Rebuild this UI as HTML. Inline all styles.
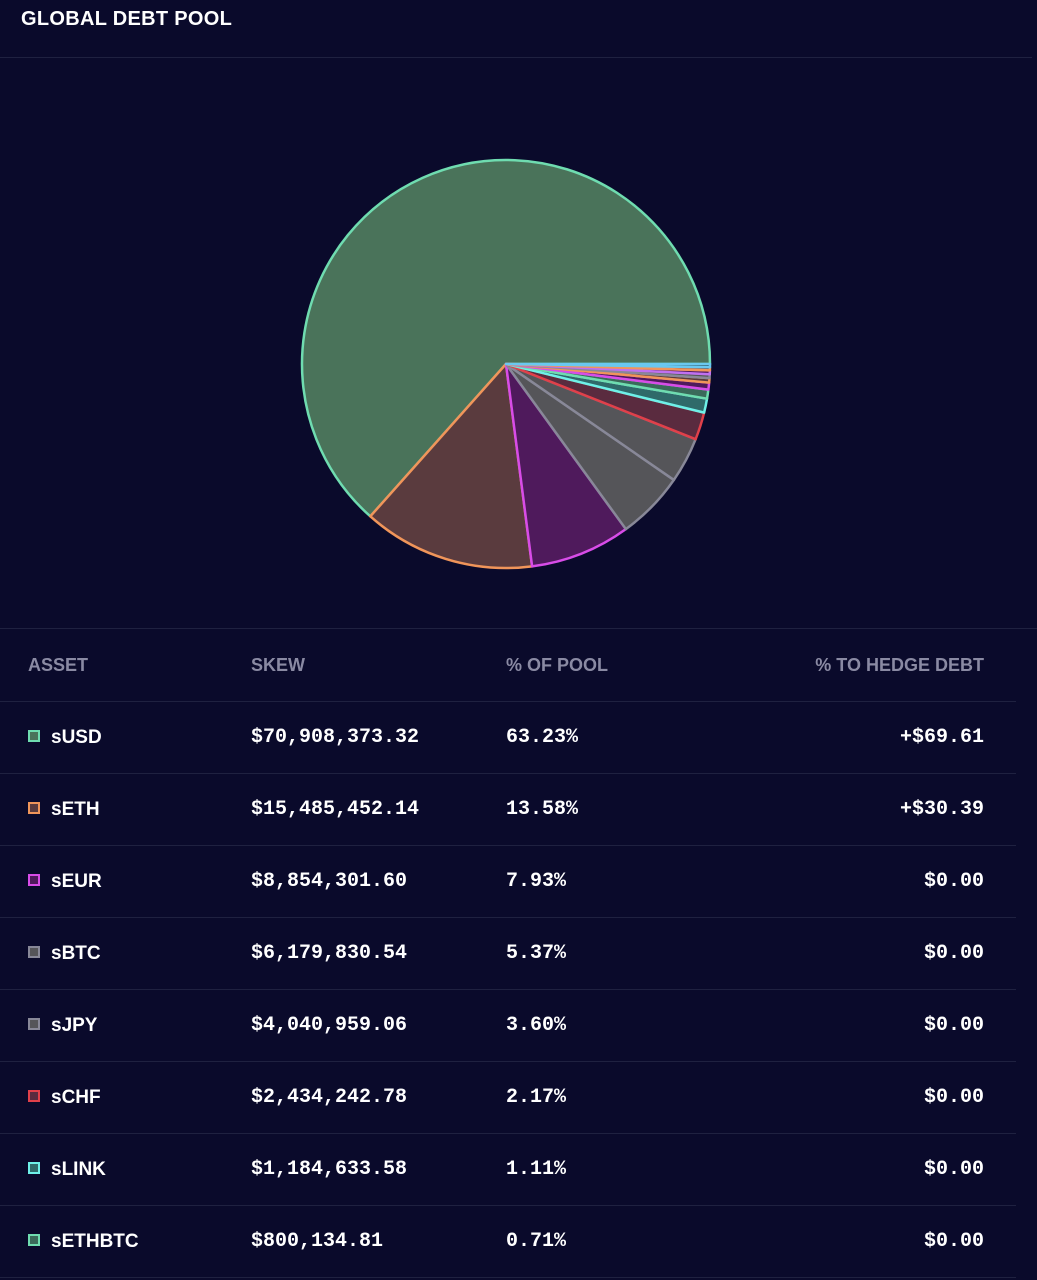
<!DOCTYPE html>
<html><head><meta charset="utf-8">
<style>
body{margin:0;width:1037px;height:1280px;background:#0a0a2b;overflow:hidden;font-family:"Liberation Sans",sans-serif;color:#fff;position:relative}
.title{position:absolute;left:21px;top:8px;font-weight:bold;font-size:20px;letter-spacing:0.3px}
.hr{position:absolute;left:0;height:1px;background:#1f2140}
table{position:absolute;left:0;top:629px;width:1016px;border-collapse:collapse}
th{height:72px;font-size:18px;color:#8a8aa3;text-align:left;font-weight:bold;border-bottom:1px solid #1f2140;padding:0}
td{height:71px;border-bottom:1px solid #1f2140;padding:0;font-size:19px;font-weight:bold}
.mono{font-family:"Liberation Mono",monospace;font-size:20px}
.c1{padding-left:28px;width:223px}.c2{width:255px}.c4{text-align:right;padding-right:32px}
.sw{display:inline-block;width:8px;height:8px;border:2px solid;margin-right:11px;vertical-align:1px}
</style></head><body>
<div class="title">GLOBAL DEBT POOL</div>
<div class="hr" style="top:57px;width:1032px"></div>
<div class="hr" style="top:628px;width:1037px"></div>
<svg id="pie" width="1037" height="620" style="position:absolute;left:0;top:0"></svg>
<table>
<thead><tr><th class="c1">ASSET</th><th class="c2">SKEW</th><th>% OF POOL</th><th class="c4" style="text-align:right">% TO HEDGE DEBT</th></tr></thead>
<tbody id="tb"></tbody></table>
<script>
const names=["sUSD","sETH","sEUR","sBTC","sJPY","sCHF","sLINK","sETHBTC","sXAU","sAUD","sXAG","sGBP","sDEFI","sBNB"];
const pct=[63.23,13.58,7.93,5.37,3.60,2.17,1.11,0.71,0.55,0.35,0.3,0.3,0.25,0.25];
const skew=["$70,908,373.32","$15,485,452.14","$8,854,301.60","$6,179,830.54","$4,040,959.06","$2,434,242.78","$1,184,633.58","$800,134.81"];
const hedge=["+$69.61","+$30.39","$0.00","$0.00","$0.00","$0.00","$0.00","$0.00"];
const strokes=["#6fdcb0","#f0955a","#d84ce8","#888898","#888898","#e0404a","#6ef0e8","#6fdcb0","#d84ce8","#f0955a","#888898","#c070f0","#f0955a","#6ac8f0"];
const fills=["#4a735a","#5a3b3e","#4f1a5c","#555559","#555559","#5a2b3f","#2f6a6a","#3a6a5a","#4f1a5c","#5a3b3e","#555559","#4f1a5c","#5a3b3e","#2f5a6a"];
const cx=506,cy=364,R=204,ns="http://www.w3.org/2000/svg";
const total=pct.reduce((a,b)=>a+b,0);
const svg=document.getElementById('pie');
let a0=0;
pct.forEach((p,i)=>{
 const a1=a0+p/total*2*Math.PI;
 const x0=cx+R*Math.cos(a0),y0=cy-R*Math.sin(a0),x1=cx+R*Math.cos(a1),y1=cy-R*Math.sin(a1);
 const path=document.createElementNS(ns,'path');
 path.setAttribute('d',`M${cx},${cy}L${x0},${y0}A${R},${R} 0 ${a1-a0>Math.PI?1:0} 0 ${x1},${y1}Z`);
 path.setAttribute('fill',fills[i]);path.setAttribute('stroke',strokes[i]);path.setAttribute('stroke-width','2.5');path.setAttribute('stroke-linejoin','round');
 
 
 svg.appendChild(path);a0=a1;
});
const tb=document.getElementById('tb');
skew.forEach((s,i)=>{
 const tr=document.createElement('tr');
 
 
 tr.innerHTML=`<td class="c1"><span class="sw" style="border-color:${strokes[i]};background:${fills[i]}"></span>${names[i]}</td><td class="c2 mono">${s}</td><td class="mono">${pct[i].toFixed(2)}%</td><td class="c4 mono">${hedge[i]}</td>`;
 tb.appendChild(tr);
});
</script>
</body></html>
